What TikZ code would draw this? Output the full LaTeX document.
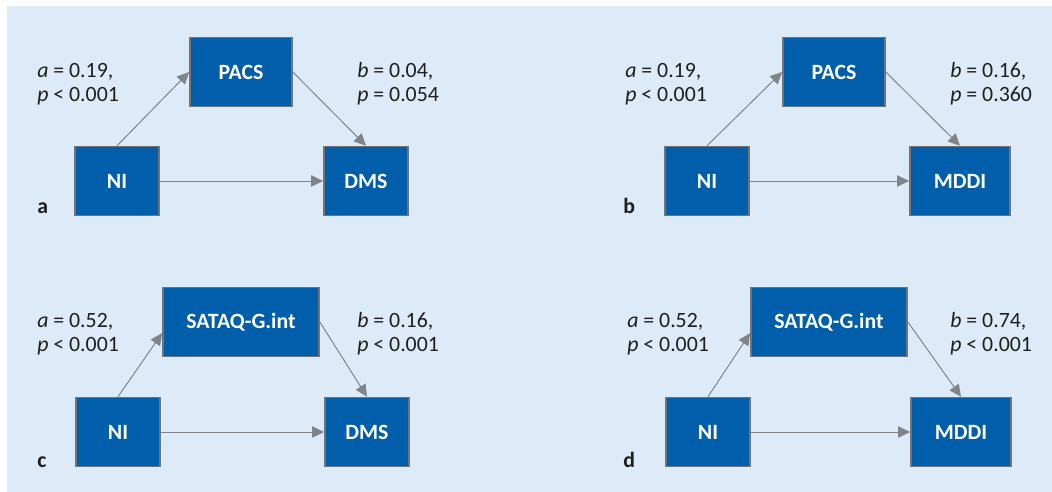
\documentclass[tikz,border=0pt]{standalone}
\usepackage{fontspec}
\setmainfont{Carlito}
\usetikzlibrary{arrows.meta}
\definecolor{boxblue}{RGB}{0,94,170}
\definecolor{boxedge}{RGB}{112,116,120}
\definecolor{linkgrey}{RGB}{128,132,136}
\definecolor{panelbg}{RGB}{221,234,247}
\definecolor{inkblack}{RGB}{30,30,30}
\newcommand{\diagfont}{\fontsize{15.5pt}{17pt}\selectfont}
\tikzset{
    var/.style={draw=boxedge, line width=1.2pt, fill=boxblue, text=white,
        font=\diagfont\bfseries, minimum height=1.72cm, inner sep=0pt},
    link/.style={draw=linkgrey, line width=0.7pt,
        -{Triangle[length=8.5pt,width=8pt]}},
    coef/.style={align=left, anchor=west, inner sep=0pt, text=inkblack,
        font=\diagfont},
    tag/.style={anchor=base west, inner sep=0pt, font=\diagfont\bfseries,
        text=inkblack}
}

\begin{document}
\begin{tikzpicture}[x=0.025cm, y=-0.025cm]
    \useasboundingbox (0,0) rectangle (1052,492);
    \fill[panelbg] (7,6) rectangle (1052,492);
    % a
    \node[var, minimum width=2.55cm] (pacs-a) at (241,72) {PACS};
    \node[var, minimum width=2.1cm] (ni-a) at (117,181) {NI};
    \node[var, minimum width=2.1cm] (dms-a) at (366,181) {DMS};
    \node[coef] (coef-a1) at (37,84) {\textit{a} = 0.19,\\\textit{p} < 0.001};
    \node[coef] (coef-a2) at (357,84) {\textit{b} = 0.04,\\\textit{p} = 0.054};
    \node[tag] (tag-a) at (37,214) {a};
    \draw[link] (ni-a.north) -- (pacs-a.west);
    \draw[link] (pacs-a.east) -- (dms-a.north);
    \draw[link] (ni-a) -- (dms-a);
    % b
    \node[var, minimum width=2.55cm] (pacs-b) at (834,72) {PACS};
    \node[var, minimum width=2.1cm] (ni-b) at (707,181) {NI};
    \node[var, minimum width=2.5cm] (mddi-b) at (960,181) {MDDI};
    \node[coef] (coef-b1) at (625,84) {\textit{a} = 0.19,\\\textit{p} < 0.001};
    \node[coef] (coef-b2) at (950,84) {\textit{b} = 0.16,\\\textit{p} = 0.360};
    \node[tag] (tag-b) at (623,214) {b};
    \draw[link] (ni-b.north) -- (pacs-b.west);
    \draw[link] (pacs-b.east) -- (mddi-b.north);
    \draw[link] (ni-b) -- (mddi-b);
    % c
    \node[var, minimum width=3.9cm] (sat-c) at (241,322) {SATAQ-G.int};
    \node[var, minimum width=2.1cm] (ni-c) at (118,432) {NI};
    \node[var, minimum width=2.1cm] (dms-c) at (367,432) {DMS};
    \node[coef] (coef-c1) at (37,334) {\textit{a} = 0.52,\\\textit{p} < 0.001};
    \node[coef] (coef-c2) at (357,334) {\textit{b} = 0.16,\\\textit{p} < 0.001};
    \node[tag] (tag-c) at (37,467) {c};
    \draw[link] (ni-c.north) -- (sat-c.188);
    \draw[link] (sat-c.east) -- (dms-c.north);
    \draw[link] (ni-c) -- (dms-c);
    % d
    \node[var, minimum width=3.9cm] (sat-d) at (829,322) {SATAQ-G.int};
    \node[var, minimum width=2.1cm] (ni-d) at (708,432) {NI};
    \node[var, minimum width=2.5cm] (mddi-d) at (961,432) {MDDI};
    \node[coef] (coef-d1) at (627,334) {\textit{a} = 0.52,\\\textit{p} < 0.001};
    \node[coef] (coef-d2) at (950,334) {\textit{b} = 0.74,\\\textit{p} < 0.001};
    \node[tag] (tag-d) at (623,467) {d};
    \draw[link] (ni-d.north) -- (sat-d.188);
    \draw[link] (sat-d.east) -- (mddi-d.north);
    \draw[link] (ni-d) -- (mddi-d);
\end{tikzpicture}
\end{document}
